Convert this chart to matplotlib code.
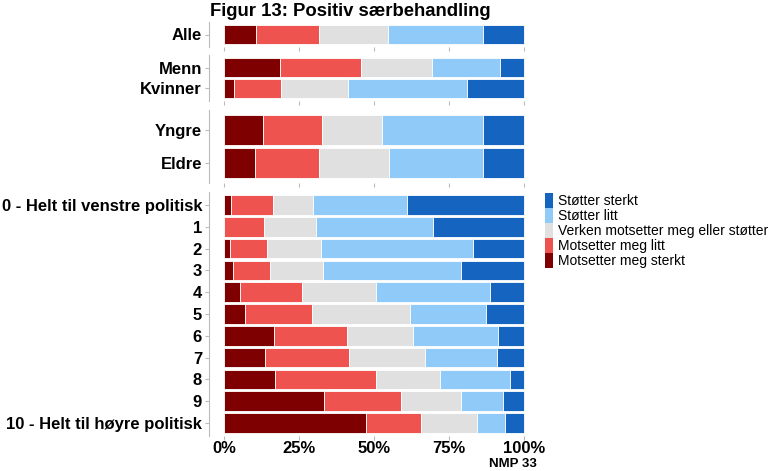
import numpy as np
import matplotlib
matplotlib.use("Agg")
import matplotlib.pyplot as plt
from matplotlib.patches import Patch

plt.rcParams["font.family"] = ["Liberation Sans", "DejaVu Sans"]

categories = ["Motsetter meg sterkt", "Motsetter meg litt",
              "Verken motsetter meg eller støtter", "Støtter litt", "Støtter sterkt"]
colors = ["#7F0000", "#EF5350", "#E0E0E0", "#90CAF9", "#1565C0"]

groups_all = ["Alle"]
values_all = [[10.7, 21.1, 23.0, 31.6, 13.6]]

groups_gender = ["Menn", "Kvinner"]
values_gender = [[18.7, 27.0, 23.5, 22.8, 8.0],
                 [3.3, 15.6, 22.3, 39.9, 18.9]]

groups_age = ["Yngre", "Eldre"]
values_age = [[12.9, 19.8, 20.1, 33.6, 13.6],
              [10.3, 21.3, 23.5, 31.3, 13.6]]

groups_pol = ["0 - Helt til venstre politisk", "1", "2", "3", "4", "5",
              "6", "7", "8", "9", "10 - Helt til høyre politisk"]
values_pol = [[2.2, 14.2, 13.4, 31.3, 38.9],
              [0.0, 13.4, 17.3, 39.1, 30.2],
              [2.0, 12.4, 17.9, 50.6, 17.1],
              [3.1, 12.2, 17.8, 45.8, 21.1],
              [5.4, 20.7, 24.6, 38.0, 11.3],
              [7.0, 22.3, 32.7, 25.2, 12.8],
              [16.7, 24.2, 22.2, 28.3, 8.6],
              [13.6, 28.1, 25.4, 23.8, 9.1],
              [17.1, 33.6, 21.3, 23.3, 4.7],
              [33.4, 25.6, 19.9, 14.2, 6.9],
              [47.3, 18.5, 18.6, 9.4, 6.2]]

panels = [(groups_all, values_all, 22, 47),
          (groups_gender, values_gender, 55, 101),
          (groups_age, values_age, 110, 183),
          (groups_pol, values_pol, 192, 436)]

W, H = 770, 471
fig = plt.figure(figsize=(W / 100, H / 100), dpi=100)
left_px, right_px = 209, 539

for i, (groups, values, top, bottom) in enumerate(panels):
    ax = fig.add_axes([left_px / W, 1 - bottom / H,
                       (right_px - left_px) / W, (bottom - top) / H])
    vals = np.array(values, dtype=float)
    vals = vals / vals.sum(axis=1, keepdims=True) * 100
    y = np.arange(len(groups))
    left = np.zeros(len(groups))
    for k in range(len(categories)):
        ax.barh(y, vals[:, k], left=left, height=0.9, color=colors[k],
                edgecolor="white", linewidth=0.6)
        left += vals[:, k]
    ax.set_xlim(-5, 105)
    ax.set_ylim(len(groups) - 0.4, -0.6)
    ax.set_yticks(y)
    ax.set_yticklabels(groups, fontsize=12, fontweight="bold")
    ax.set_xticks([0, 25, 50, 75, 100])
    for s in ["top", "right", "bottom"]:
        ax.spines[s].set_visible(False)
    ax.spines["left"].set_color("#BBBBBB")
    ax.tick_params(axis="both", length=3, color="#BBBBBB", pad=2)
    ax.tick_params(axis="x", pad=0.5)
    if i == len(panels) - 1:
        ax.set_xticklabels(["0%", "25%", "50%", "75%", "100%"],
                           fontsize=12, fontweight="bold")
    else:
        ax.set_xticklabels([])

fig.text((left_px + 1) / W, 1 - 11 / H, "Figur 13: Positiv særbehandling",
         fontsize=13.3, fontweight="bold", va="center", ha="left")
fig.text(537 / W, 1 - 464 / H, "NMP 33", fontsize=9.5, fontweight="bold",
         ha="right", va="center")

handles = [Patch(facecolor=colors[k], edgecolor="none", label=categories[k])
           for k in reversed(range(len(categories)))]
fig.legend(handles=handles, loc="upper left", bbox_to_anchor=(545 / W, 1 - 193 / H),
           frameon=False, fontsize=10, handlelength=0.55, handleheight=1.25,
           handletextpad=0.35, labelspacing=0.0, borderaxespad=0, borderpad=0)

fig.savefig("out.png", dpi=100)
